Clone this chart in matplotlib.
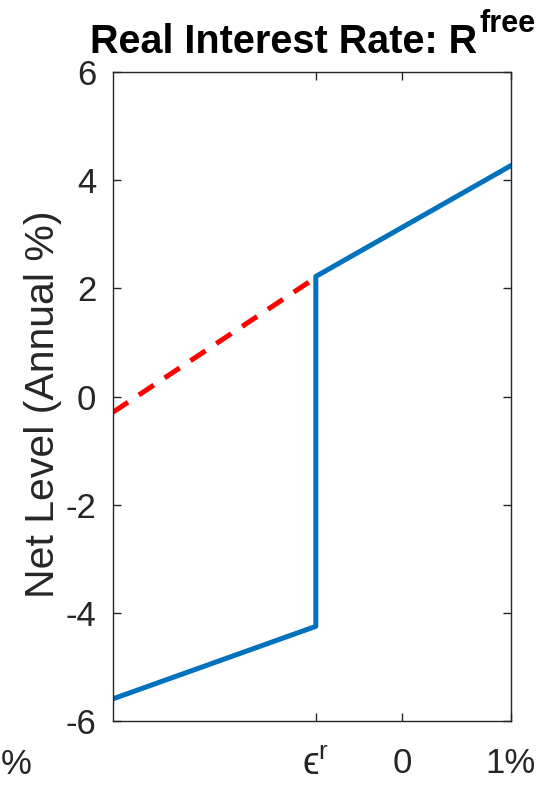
import matplotlib
matplotlib.use("Agg")
import matplotlib.pyplot as plt

plt.rcParams['font.family'] = ['Liberation Sans', 'DejaVu Sans']
plt.rcParams['mathtext.fontset'] = 'custom'
plt.rcParams['mathtext.rm'] = 'Liberation Sans'
plt.rcParams['mathtext.it'] = 'Liberation Sans:italic'
plt.rcParams['mathtext.bf'] = 'Liberation Sans:bold'

# data (x in percent, y in annual %)
eps_r = -0.79
x_min, x_max = -2.65, 1.0
blue_x = [x_min, eps_r, eps_r, x_max]
blue_y = [-5.59, -4.25, 2.22, 4.27]
red_x = [x_min, eps_r]
red_y = [-0.29, 2.2]
xtick_vals = [eps_r, 0, 1]
xtick_labels = ['\u03f5$^{\\mathrm{r}}$', '0', '1%']
ytick_vals = [-6, -4, -2, 0, 2, 4, 6]

W, H = 543, 786
fig = plt.figure(figsize=(W / 100, H / 100), dpi=100)
ax = fig.add_axes([113 / W, 1 - 721 / H, (511 - 113) / W, (721 - 72) / H])

ax.plot(red_x, red_y, color='#FF0000', lw=3.6, dashes=(3.6, 2.6), dash_capstyle='butt')
ax.plot(blue_x, blue_y, color='#0072BD', lw=3.6)

ax.set_xlim(x_min, x_max)
ax.set_ylim(-6, 6)
ax.set_xticks(xtick_vals)
ax.set_xticklabels(xtick_labels)
ax.set_yticks(ytick_vals)
ax.set_yticklabels([str(v) for v in ytick_vals])

ax.tick_params(direction='in', length=6, width=1, colors='#262626', labelsize=25,
               top=True, right=True)
ax.tick_params(axis='y', pad=12)
ax.tick_params(axis='x', pad=19)
for s in ax.spines.values():
    s.set_color('#262626')
    s.set_linewidth(1)

# epsilon label slightly larger glyph
ax.get_xticklabels()[0].set_fontsize(27)

ax.set_ylabel('Net Level (Annual %)', fontsize=29.5, color='#262626')
ax.yaxis.set_label_coords(-0.128, 0.488)

# title: main text plus raised superscript
fig.text(477 / W, 1 - 53 / H, 'Real Interest Rate: R', ha='right', va='baseline',
         fontsize=28.5, fontweight='bold', color='black')
fig.text(480 / W, 1 - 32 / H, 'free', ha='left', va='baseline',
         fontsize=22, fontweight='bold', color='black')

fig.text(1 / W, 1 - 765 / H, '%', fontsize=25, color='#262626', ha='left', va='center')

fig.savefig('out.png', dpi=100)
